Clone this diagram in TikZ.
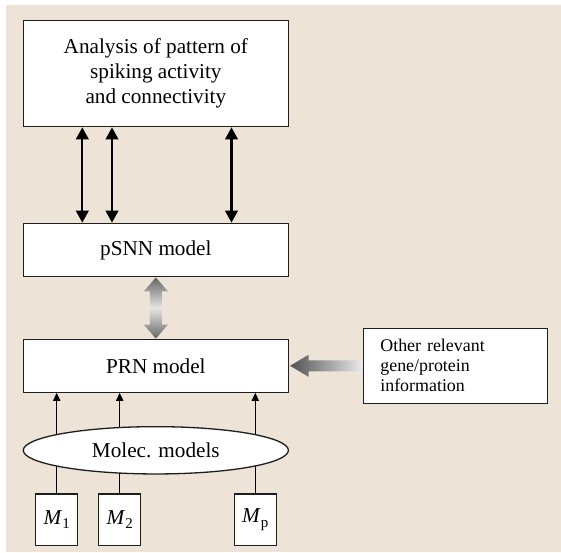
\documentclass[tikz,border=0pt]{standalone}
\usepackage{fontspec}
\setmainfont{Liberation Serif}
\usetikzlibrary{arrows.meta,shapes.geometric,calc,backgrounds}
\definecolor{bgbeige}{RGB}{237,227,214}
\definecolor{edge}{RGB}{30,30,30}
\newcommand{\msub}[2]{\textit{#1}\raisebox{-0.45ex}{\fontsize{15}{15}\selectfont #2}}
\tikzset{
  box/.style={draw=edge, line width=1.3pt, fill=white, inner sep=0pt,
    font=\fontsize{21.2}{25}\selectfont, align=center},
  mbox/.style={box, minimum width=42pt, minimum height=51.3pt},
  bigarrow/.style={draw=black, line width=2.3pt,
    {Triangle[length=12pt,width=12.5pt]}-{Triangle[length=12pt,width=12.5pt]}},
  smallarrow/.style={draw=black, line width=0.9pt, -{Triangle[length=8pt,width=7.5pt]}},
  plainline/.style={draw=black, line width=0.9pt}
}
\begin{document}
\begin{tikzpicture}[x=1pt,y=-1pt]
\useasboundingbox (0,0) rectangle (561,552);
% nodes
\node[box, minimum width=265.1pt, minimum height=106pt] (ana) at (155.85,73.7)
  {Analysis of pattern of\\spiking activity\\and connectivity};
\node[box, minimum width=265.1pt, minimum height=53.4pt] (psnn) at (155.85,250) {pSNN model};
\node[box, minimum width=265.1pt, minimum height=53pt] (prn) at (155.85,365.8) {PRN model};
\node[box, minimum width=184.1pt, minimum height=75pt, text width=150pt, inner xsep=17pt,
  align=left, font=\fontsize{17.9}{20}\selectfont] (other) at (455.35,365.8)
  {Other relevant\\gene/protein\\information};
\node[box, ellipse, minimum width=265.1pt, minimum height=47.3pt] (mol) at (155.85,450.3) {Molec. models};
\node[mbox] (m1) at (56.7,519.65) {\msub{M}{1}};
\node[mbox] (m2) at (119.7,519.65) {\msub{M}{2}};
\node[mbox] (mp) at (255.3,519.65) {\msub{M}{p}};
% background and connectors behind the nodes
\begin{scope}[on background layer]
  \fill[bgbeige] (6,5) rectangle (561,552);
  \foreach \m in {m1,m2,mp}{
    \draw[plainline] (\m.north) -- (\m.north |- mol.center);
    \draw[smallarrow] (\m.north |- mol.center) -- (\m.north |- prn.south);
  }
\end{scope}
% black double arrows
\draw[bigarrow] ([xshift=-73.55pt]ana.south) -- ([xshift=-73.55pt]psnn.north);
\draw[bigarrow] ([xshift=-43.85pt]ana.south) -- ([xshift=-43.85pt]psnn.north);
\draw[bigarrow] ([xshift=75.65pt]ana.south) -- ([xshift=75.65pt]psnn.north);
% grey double arrow between pSNN and PRN
\path[top color=black!60, bottom color=black!60, middle color=black!10]
  let \p1=(psnn.south), \p2=(prn.north) in
  (\x1,\y1) -- (\x1+12pt,\y1-14pt) -- (\x1+6pt,\y1-14pt) -- (\x2+6pt,\y2+14pt)
  -- (\x2+12pt,\y2+14pt) -- (\x2,\y2) -- (\x2-12pt,\y2+14pt) -- (\x2-6pt,\y2+14pt)
  -- (\x1-6pt,\y1-14pt) -- (\x1-12pt,\y1-14pt) -- cycle;
% grey arrow from other info to PRN
\path[left color=black!68, right color=black!8]
  let \p1=(prn.east), \p2=(other.west) in
  (\x1+1pt,\y1) -- (\x1+19.5pt,\y1+11pt) -- (\x1+19.5pt,\y1+5.5pt) -- (\x2,\y1+5.5pt)
  -- (\x2,\y1-5.5pt) -- (\x1+19.5pt,\y1-5.5pt) -- (\x1+19.5pt,\y1-11pt) -- cycle;
\end{tikzpicture}
\end{document}
